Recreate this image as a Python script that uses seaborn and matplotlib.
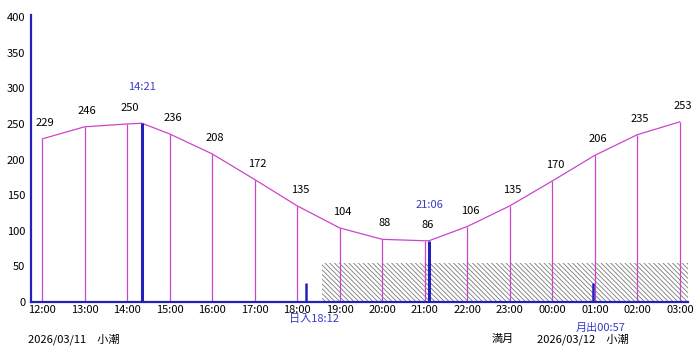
import matplotlib
matplotlib.use("Agg")
import matplotlib.pyplot as plt
import matplotlib.transforms as mtransforms
import seaborn as sns
import pandas as pd

# hourly tide levels (cm), 12:00 on 03/11 through 03:00 on 03/12
hours = list(range(12, 28))
hour_labels = ["12:00", "13:00", "14:00", "15:00", "16:00", "17:00", "18:00", "19:00",
               "20:00", "21:00", "22:00", "23:00", "00:00", "01:00", "02:00", "03:00"]
levels = [229, 246, 250, 236, 208, 172, 135, 104, 88, 86, 106, 135, 170, 206, 235, 253]

# high / low water
peak_hours = [14 + 21 / 60, 21 + 6 / 60]
peak_levels = [251, 86]
peak_labels = ["14:21", "21:06"]

# sunset / moonrise
event_hours = [18 + 12 / 60, 24 + 57 / 60]
event_labels = ["日入18:12", "月出00:57"]
event_marks = [26, 26]
event_label_y = [-0.06, -0.09]

# night band
night_start = 18 + 35 / 60
night_top = 55

# date / moon texts under the axis
date_x = [11.67, 22.56, 23.65]
date_texts = ["2026/03/11　小潮", "満月", "2026/03/12　小潮"]

sns.set_style("white")
plt.rcParams["font.family"] = ["Noto Sans CJK JP", "DejaVu Sans"]
plt.rcParams["hatch.linewidth"] = 0.6

pink = "#cc44cc"
blue = "#2222bb"
label_blue = "#3a3acc"

fig = plt.figure(figsize=(7, 3.58), dpi=100)
ax = fig.add_axes([31 / 700, 1 - 302 / 358, (688 - 31) / 700, 287 / 358])

xmin, xmax = 11.74, 27.19

# curve through hourly points and the high/low turning points
curve = pd.DataFrame({"t": hours + peak_hours, "level": levels + peak_levels}).sort_values("t")
sns.lineplot(data=curve, x="t", y="level", color=pink, lw=0.9, ax=ax, sort=True)

# hourly drop lines
ax.vlines(hours, 0, levels, color=pink, lw=0.9)

# night hatch band
ax.fill_between([night_start, xmax], 0, night_top, facecolor="none",
                edgecolor="#7a7a7a", hatch="\\" * 7, lw=0, zorder=1)

# high/low water bars
ax.vlines(peak_hours, 0, peak_levels, color=blue, lw=2.2, zorder=3)
for t, v, s in zip(peak_hours, peak_levels, peak_labels):
    ax.annotate(s, (t, v), xytext=(0, 26), textcoords="offset points",
                ha="center", va="center", color=label_blue, fontsize=8)

# sunset / moonrise ticks
ax.vlines(event_hours, 0, event_marks, color=blue, lw=1.8, zorder=3)
trans = mtransforms.blended_transform_factory(ax.transData, ax.transAxes)
for t, s, y in zip(event_hours, event_labels, event_label_y):
    ax.text(t + 0.19, y, s, transform=trans, ha="center", va="center",
            color=label_blue, fontsize=8, clip_on=False)

# value labels
for t, v in zip(hours, levels):
    ax.annotate(str(v), (t, v), xytext=(2, 11.5), textcoords="offset points",
                ha="center", va="center", color="black", fontsize=8)

for x, s in zip(date_x, date_texts):
    ax.text(x, -0.129, s, transform=trans, ha="left", va="center",
            color="black", fontsize=8, clip_on=False)

ax.set_xlim(xmin, xmax)
ax.set_ylim(0, 403)
ax.set_xticks(hours)
ax.set_xticklabels(hour_labels)
ax.set_yticks(range(0, 401, 50))
ax.tick_params(axis="both", length=0, labelsize=8, colors="black")
ax.tick_params(axis="y", pad=4)
ax.tick_params(axis="x", pad=2)
ax.set_xlabel("")
ax.set_ylabel("")

for side in ["top", "right"]:
    ax.spines[side].set_visible(False)
for side in ["left", "bottom"]:
    ax.spines[side].set_color(blue)
    ax.spines[side].set_linewidth(1.6)

fig.savefig("out.png", dpi=100)
